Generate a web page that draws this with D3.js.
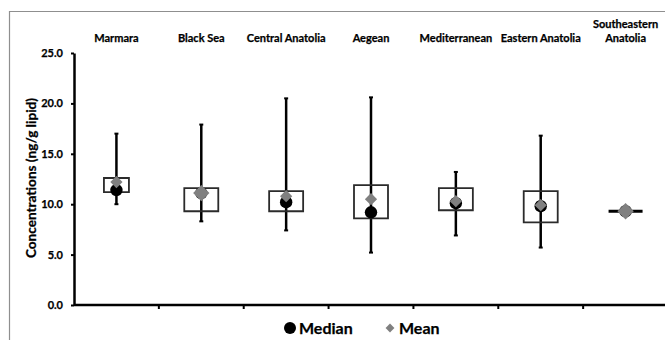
<!DOCTYPE html>
<html>
<head>
<meta charset="utf-8">
<script src="https://cdn.jsdelivr.net/npm/d3@7"></script>
<style>
  html, body { margin: 0; background: #fff; overflow: hidden; }
  svg { display: block; }
  text { font-family: Lato, "Open Sans", sans-serif; font-weight: bold; fill: #000; stroke: #000; stroke-width: 0.25px; }
</style>
</head>
<body>
<div class="container"></div>
<script>
// data (ng/g lipid)
var categories = ['Marmara', 'Black Sea', 'Central Anatolia', 'Aegean', 'Mediterranean', 'Eastern Anatolia', 'Southeastern Anatolia'];
var whiskerLow = [10.0, 8.3, 7.4, 5.2, 6.9, 5.7, 9.3];
var boxLow = [11.2, 9.3, 9.3, 8.6, 9.4, 8.2, 9.3];
var boxHigh = [12.6, 11.6, 11.3, 11.9, 11.6, 11.3, 9.3];
var whiskerHigh = [17.0, 17.9, 20.5, 20.6, 13.2, 16.8, 9.3];
var medians = [11.4, 11.1, 10.2, 9.2, 10.1, 9.8, 9.3];
var means = [12.2, 11.1, 10.8, 10.5, 10.3, 9.9, 9.3];
var yTicks = [0, 5, 10, 15, 20, 25];

const WIDTH = 665;
const HEIGHT = 340;

var translate = function (x, y) {
    return 'translate(' + x + ',' + y + ')';
};

var rows = categories.map(function (c, i) {
    return {
        name: c, lo: whiskerLow[i], q1: boxLow[i], q3: boxHigh[i],
        hi: whiskerHigh[i], median: medians[i], mean: means[i]
    };
});

var drawChart = function () {
    var x = d3.scaleBand().domain(categories).range([74, 668]);
    var y = d3.scaleLinear().domain([0, 25]).range([305, 53]);
    var boxWidth = function (d) { return d.name === 'Marmara' ? 25 : 34; };
    var cx = function (d) { return x(d.name) + x.bandwidth() / 2; };

    var svg = d3.select('.container').append('svg')
        .attr('width', WIDTH)
        .attr('height', HEIGHT);

    // outer frame (left and top edges only)
    svg.append('line')
        .attr('x1', 9.5).attr('x2', 9.5).attr('y1', 11).attr('y2', HEIGHT)
        .attr('stroke', '#8f8f8f').attr('stroke-width', 1.2);
    svg.append('line')
        .attr('x1', 9).attr('x2', WIDTH).attr('y1', 11.5).attr('y2', 11.5)
        .attr('stroke', '#8f8f8f').attr('stroke-width', 1.2);

    // y axis
    var yAxis = d3.axisLeft(y).tickValues(yTicks).tickFormat(d3.format('.1f'))
        .tickSize(3).tickSizeOuter(0).tickPadding(8);
    var gy = svg.append('g').attr('transform', translate(74, 0)).call(yAxis);
    gy.select('.domain').attr('stroke', '#000').attr('stroke-width', 2.5);
    gy.selectAll('.tick line').attr('stroke', '#000').attr('stroke-width', 2);
    gy.selectAll('.tick text').style('font-size', '11px').attr('font-family', null);

    // x axis: plain line, ticks at band boundaries
    var gx = svg.append('g').attr('transform', translate(0, 305));
    gx.append('line')
        .attr('x1', x.range()[0]).attr('x2', x.range()[1])
        .attr('stroke', '#000').attr('stroke-width', 2.5);
    gx.selectAll('.bound')
        .data(categories.slice(1))
        .enter().append('line')
        .attr('class', 'bound')
        .attr('x1', function (d) { return x(d); })
        .attr('x2', function (d) { return x(d); })
        .attr('y1', 0).attr('y2', 4)
        .attr('stroke', '#000').attr('stroke-width', 2);

    // category labels along the top
    var labels = svg.append('g').selectAll('text')
        .data(rows)
        .enter().append('text')
        .attr('text-anchor', 'middle')
        .style('font-size', '11px')
        .attr('transform', function (d) { return translate(cx(d), 42); });
    labels.each(function (d) {
        var words = d.name === 'Southeastern Anatolia' ? ['Southeastern', 'Anatolia'] : [d.name];
        d3.select(this).selectAll('tspan')
            .data(words)
            .enter().append('tspan')
            .attr('x', 0)
            .attr('y', function (w, i) { return (i - words.length + 1) * 14; })
            .text(function (w) { return w; });
    });

    var g = svg.append('g');

    // whiskers
    g.selectAll('.whisker')
        .data(rows)
        .enter().append('line')
        .attr('class', 'whisker')
        .attr('x1', cx).attr('x2', cx)
        .attr('y1', function (d) { return y(d.hi); })
        .attr('y2', function (d) { return y(d.lo); })
        .attr('stroke', '#000').attr('stroke-width', 2.5);

    g.selectAll('.cap')
        .data(rows.filter(function (d) { return d.hi > d.lo; }).flatMap(function (d) {
            return [{d: d, v: d.hi}, {d: d, v: d.lo}];
        }))
        .enter().append('line')
        .attr('class', 'cap')
        .attr('x1', function (c) { return cx(c.d) - 2; })
        .attr('x2', function (c) { return cx(c.d) + 2; })
        .attr('y1', function (c) { return y(c.v); })
        .attr('y2', function (c) { return y(c.v); })
        .attr('stroke', '#000').attr('stroke-width', 2);

    // boxes (a flat box becomes a single line)
    g.selectAll('.box')
        .data(rows)
        .enter().append('path')
        .attr('class', 'box')
        .attr('d', function (d) {
            var x0 = cx(d) - boxWidth(d) / 2, x1 = cx(d) + boxWidth(d) / 2;
            var p = d3.path();
            if (d.q3 > d.q1) {
                p.rect(x0, y(d.q3), x1 - x0, y(d.q1) - y(d.q3));
            } else {
                p.moveTo(x0, y(d.q1));
                p.lineTo(x1, y(d.q1));
            }
            return p.toString();
        })
        .attr('fill', 'none')
        .attr('stroke', function (d) { return d.q3 > d.q1 ? '#2b2b2b' : '#000'; })
        .attr('stroke-width', function (d) { return d.q3 > d.q1 ? 1.8 : 3; });

    // medians
    g.selectAll('.median')
        .data(rows)
        .enter().append('circle')
        .attr('class', 'median')
        .attr('cx', cx)
        .attr('cy', function (d) { return y(d.median); })
        .attr('r', 6.2)
        .attr('fill', '#000');

    // means
    var diamond = d3.symbol().type(d3.symbolDiamond2).size(95);
    var bigDiamond = d3.symbol().type(d3.symbolDiamond2).size(170);
    g.selectAll('.mean')
        .data(rows)
        .enter().append('path')
        .attr('class', 'mean')
        .attr('d', function (d) { return d.mean === d.median ? bigDiamond() : diamond(); })
        .attr('transform', function (d) { return translate(cx(d), y(d.mean)); })
        .attr('fill', '#808080');

    // y title
    svg.append('text')
        .attr('transform', translate(36, 178) + ' rotate(-90)')
        .attr('text-anchor', 'middle')
        .style('font-size', '13.6px')
        .text('Concentrations (ng/g lipid)');

    // legend
    var legend = svg.append('g').attr('transform', translate(0, 328));
    legend.append('circle').attr('cx', 290).attr('cy', 0).attr('r', 6).attr('fill', '#000');
    legend.append('text').attr('x', 299).attr('y', 5.5).style('font-size', '16px').text('Median');
    legend.append('path').attr('d', d3.symbol().type(d3.symbolDiamond2).size(50))
        .attr('transform', translate(390, 0)).attr('fill', '#808080');
    legend.append('text').attr('x', 399).attr('y', 5.5).style('font-size', '16px').text('Mean');
};

window.onload = drawChart;
</script>
</body>
</html>
